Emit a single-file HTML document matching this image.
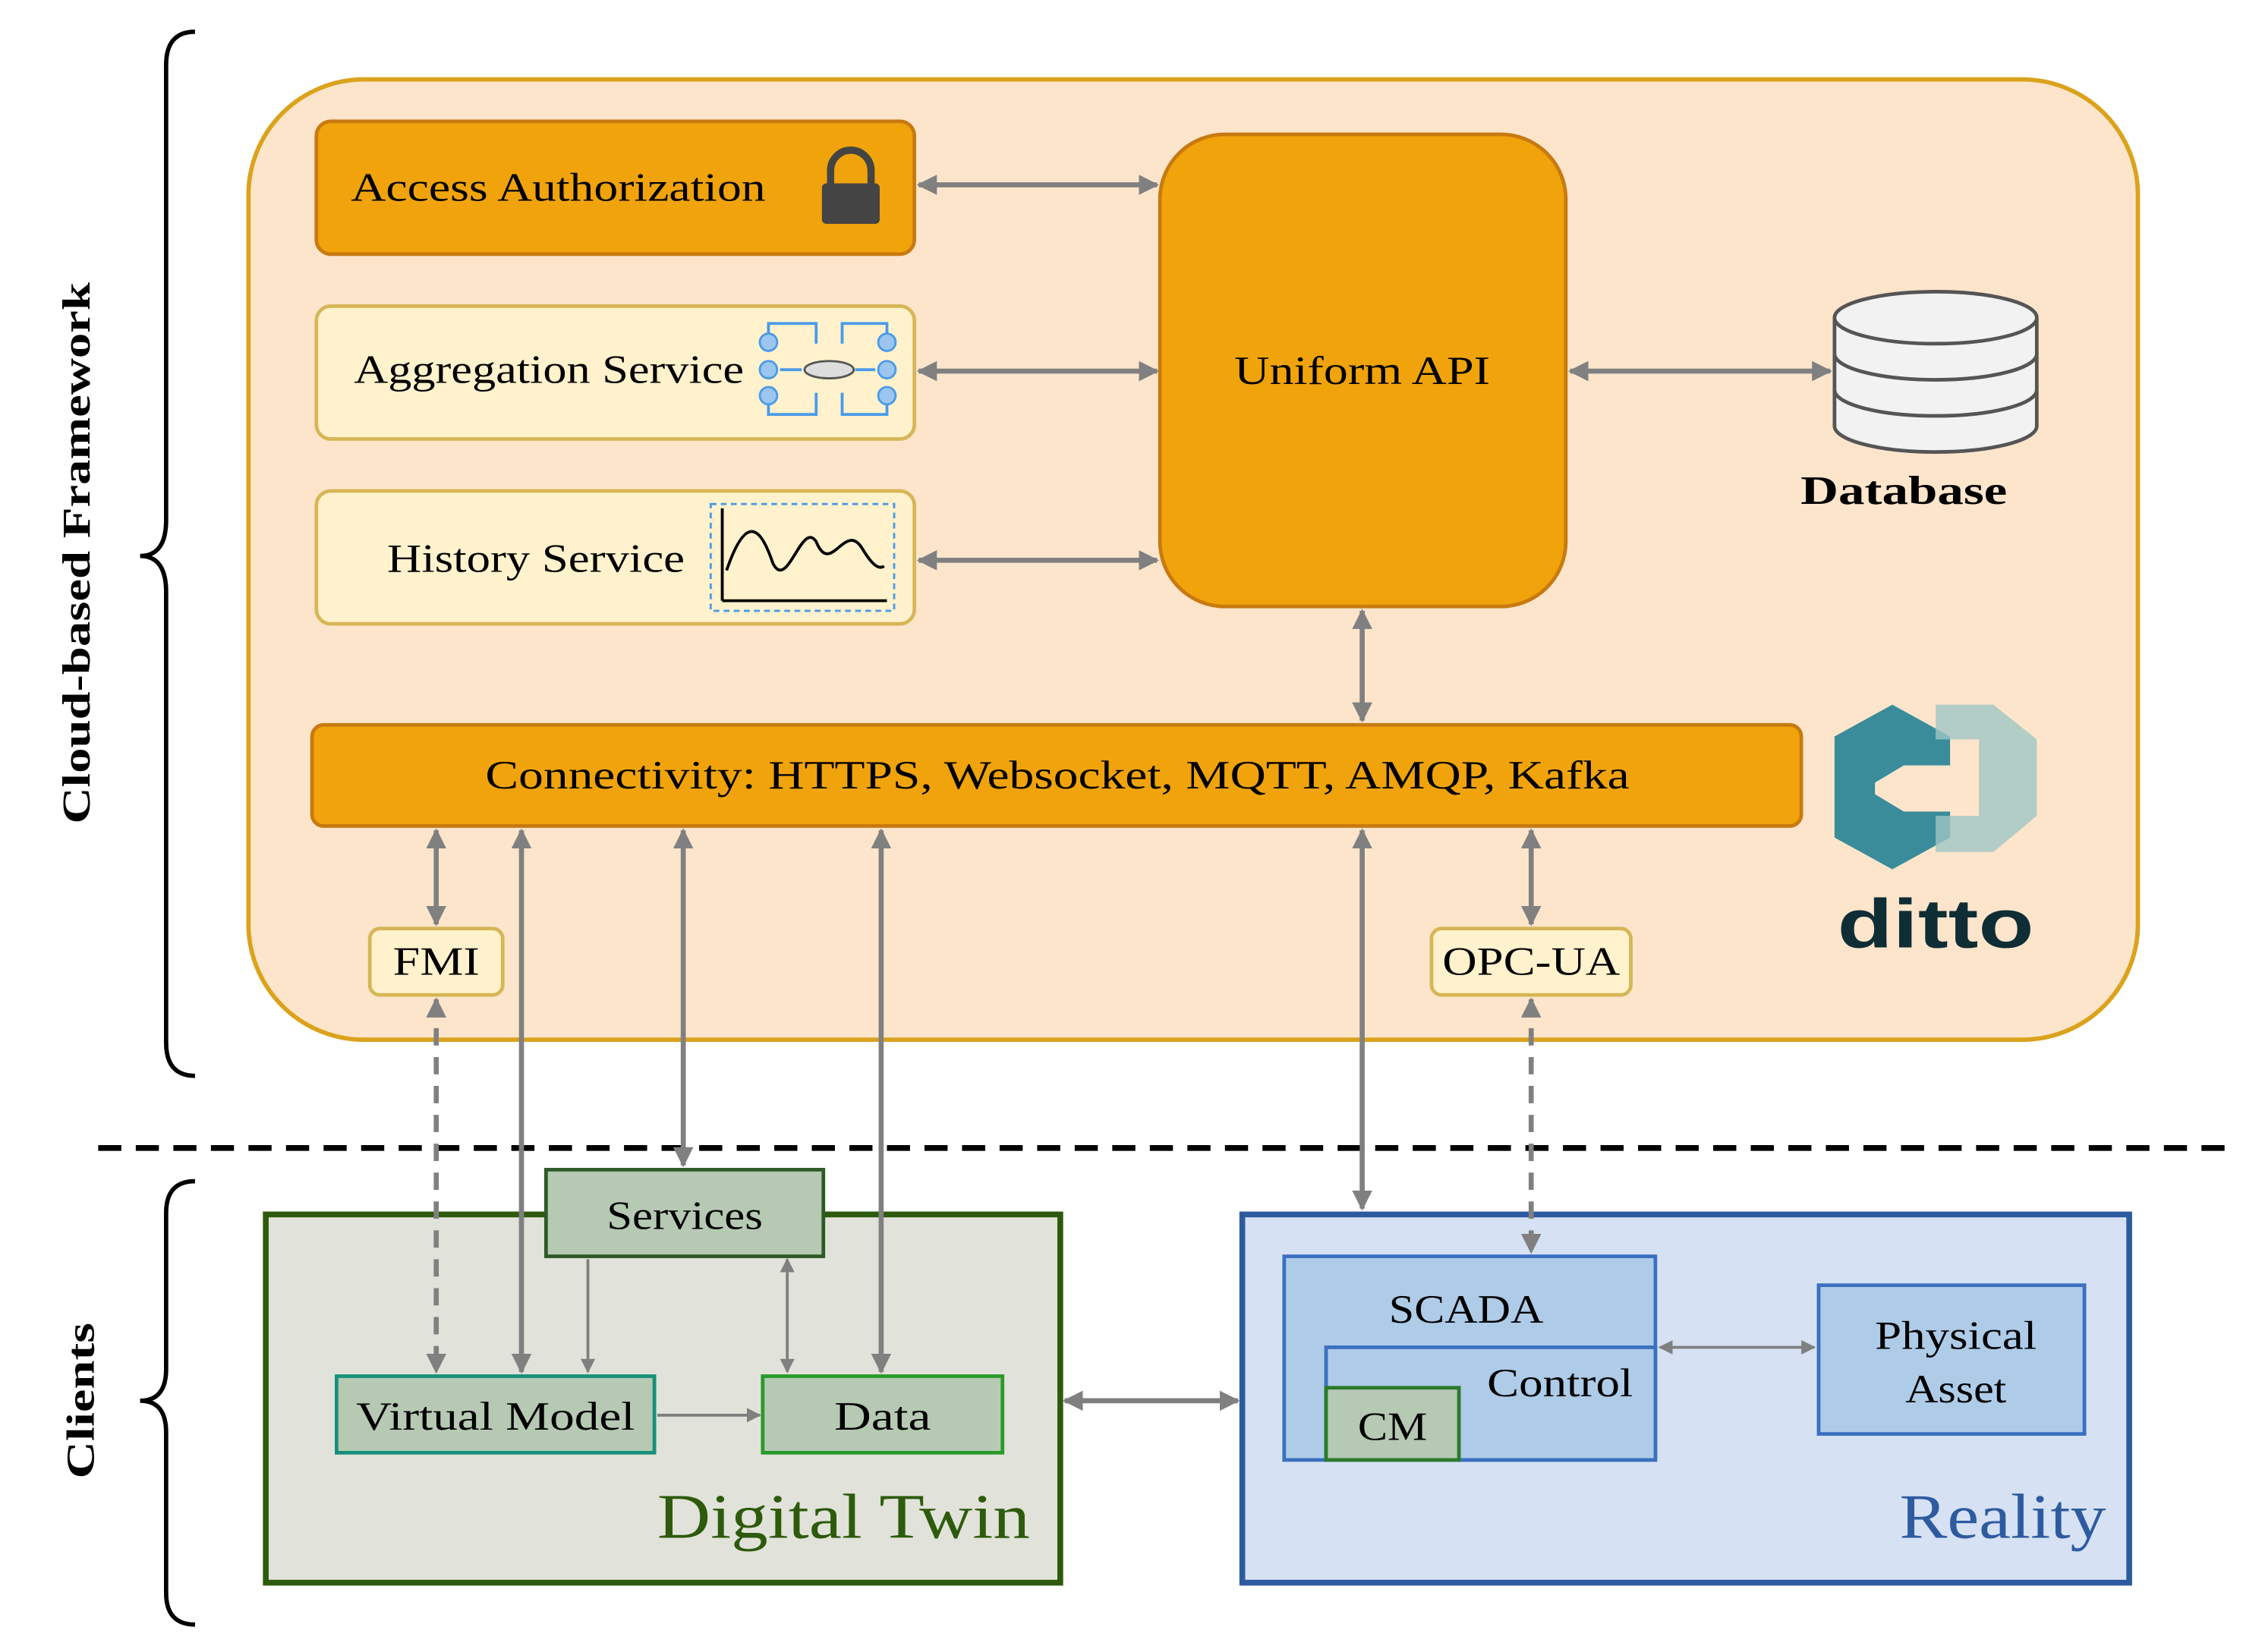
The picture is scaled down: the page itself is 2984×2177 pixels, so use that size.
<!DOCTYPE html>
<html><head><meta charset="utf-8"><style>
html,body{margin:0;padding:0;background:#fff;}
svg{display:block;}
text{font-family:"Liberation Serif",serif;}
</style></head><body>
<svg width="2984" height="2177" viewBox="0 0 1568 1144" preserveAspectRatio="none" xmlns="http://www.w3.org/2000/svg">
<defs>
<marker id="a" viewBox="0 0 10 10" refX="9" refY="5" markerWidth="4" markerHeight="4" orient="auto-start-reverse"><path d="M0,0 L10,5 L0,10 z" fill="#808080"/></marker>
<marker id="b" viewBox="0 0 10 10" refX="9" refY="5" markerWidth="5" markerHeight="5" orient="auto-start-reverse"><path d="M0,0 L10,5 L0,10 z" fill="#808080"/></marker>
</defs>
<!-- braces -->
<path d="M135,22 Q115,22 115,45 L115,360 Q115,385 97,385 Q115,385 115,410 L115,722 Q115,745 135,745" fill="none" stroke="#000" stroke-width="3"/>
<path d="M135,818 Q115,818 115,840 L115,948 Q115,970 97,970 Q115,970 115,992 L115,1103 Q115,1125 135,1125" fill="none" stroke="#000" stroke-width="3"/>
<text transform="translate(62,383) rotate(-90)" text-anchor="middle" font-size="27" font-weight="bold" textLength="375" lengthAdjust="spacingAndGlyphs">Cloud-based Framework</text>
<text transform="translate(65,970) rotate(-90)" text-anchor="middle" font-size="27" font-weight="bold" textLength="108" lengthAdjust="spacingAndGlyphs">Clients</text>
<line x1="68" y1="795" x2="1540" y2="795" stroke="#000" stroke-width="4" stroke-dasharray="16,10"/>
<!-- cloud -->
<rect x="172" y="55" width="1308" height="665" rx="80" fill="#fde5cc" stroke="#dba21c" stroke-width="3"/>
<rect x="219" y="84" width="414" height="92" rx="10" fill="#f0a30a" stroke="#c87a10" stroke-width="2.5"/>
<text x="243" y="139" font-size="28" textLength="287" lengthAdjust="spacingAndGlyphs">Access Authorization</text>
<path d="M575,128 L575,118 A14,14 0 0 1 603,118 L603,128" fill="none" stroke="#444" stroke-width="5"/>
<rect x="569" y="127" width="40" height="28" rx="3" fill="#444"/>
<rect x="219" y="212" width="414" height="92" rx="10" fill="#fff2cc" stroke="#d6b656" stroke-width="2.5"/>
<text x="245" y="265" font-size="28" textLength="270" lengthAdjust="spacingAndGlyphs">Aggregation Service</text>
<g stroke="#4a9be8" stroke-width="2" fill="none">
<path d="M532,237 V224 H565 V238 M614,237 V224 H583 V238 M532,274 V287 H565 V272 M614,274 V287 H583 V272 M540,256 H555 M606,256 H592"/>
</g>
<g fill="#9cc6f0" stroke="#4a9be8" stroke-width="1.5">
<circle cx="532" cy="237" r="6"/><circle cx="532" cy="256" r="6"/><circle cx="532" cy="274" r="6"/>
<circle cx="614" cy="237" r="6"/><circle cx="614" cy="256" r="6"/><circle cx="614" cy="274" r="6"/>
</g>
<ellipse cx="574" cy="256" rx="17" ry="6" fill="#ddd" stroke="#555" stroke-width="1.5"/>
<rect x="219" y="340" width="414" height="92" rx="10" fill="#fff2cc" stroke="#d6b656" stroke-width="2.5"/>
<text x="268" y="396" font-size="28" textLength="206" lengthAdjust="spacingAndGlyphs">History Service</text>
<rect x="492" y="349" width="127" height="74" fill="none" stroke="#4a9be8" stroke-width="1.5" stroke-dasharray="4,3"/>
<path d="M500,416 V352 M500,416 H614" stroke="#000" stroke-width="2" fill="none"/>
<path d="M503,395 C515,360 525,360 535,390 C545,410 555,360 565,375 C575,400 585,360 597,380 C603,390 608,395 612,392" fill="none" stroke="#000" stroke-width="2"/>
<rect x="803" y="93" width="281" height="327" rx="45" fill="#f0a30a" stroke="#c87a10" stroke-width="2.5"/>
<text x="943" y="266" font-size="28" text-anchor="middle" textLength="177" lengthAdjust="spacingAndGlyphs">Uniform API</text>
<!-- database -->
<g fill="#f2f2f2" stroke="#555" stroke-width="2.5">
<path d="M1270,270 V295 A70,18 0 0 0 1410,295 V270"/>
<path d="M1270,245 V270 A70,18 0 0 0 1410,270 V245"/>
<path d="M1270,220 V245 A70,18 0 0 0 1410,245 V220"/>
<ellipse cx="1340" cy="220" rx="70" ry="18"/>
</g>
<text x="1318" y="349" font-size="28" font-weight="bold" text-anchor="middle" textLength="143" lengthAdjust="spacingAndGlyphs">Database</text>
<rect x="216" y="502" width="1031" height="70" rx="8" fill="#f0a30a" stroke="#c87a10" stroke-width="2.5"/>
<text x="732" y="546" font-size="28" text-anchor="middle" textLength="792" lengthAdjust="spacingAndGlyphs">Connectivity: HTTPS, Websocket, MQTT, AMQP, Kafka</text>
<!-- ditto logo -->
<path d="M1270,510 L1310,488 L1350,510 L1350,530 L1318,530 L1298,542 L1298,550 L1318,562 L1350,562 L1350,580 L1310,602 L1270,580 Z" fill="#3a8c9b"/>
<path d="M1340,488 L1380,488 L1410,512 L1410,565 L1380,590 L1340,590 L1340,565 L1370,565 L1370,512 L1340,512 Z" fill="#9fc6c4" opacity="0.8"/>
<text x="1340" y="656" style="font-family:'Liberation Sans',sans-serif" font-size="48" font-weight="bold" fill="#0f2d35" text-anchor="middle" textLength="136" lengthAdjust="spacingAndGlyphs">ditto</text>
<rect x="256" y="643" width="92" height="46" rx="7" fill="#fff2cc" stroke="#d6b656" stroke-width="2.5"/>
<text x="302" y="675" font-size="28" text-anchor="middle" textLength="60" lengthAdjust="spacingAndGlyphs">FMI</text>
<rect x="991" y="643" width="138" height="46" rx="7" fill="#fff2cc" stroke="#d6b656" stroke-width="2.5"/>
<text x="1060" y="675" font-size="28" text-anchor="middle" textLength="123" lengthAdjust="spacingAndGlyphs">OPC-UA</text>
<!-- clients -->
<rect x="184" y="841" width="550" height="255" fill="#e1e2d9" stroke="#2d5a0c" stroke-width="4"/>
<text x="713" y="1065" font-size="44" fill="#2d5a0c" text-anchor="end" textLength="258" lengthAdjust="spacingAndGlyphs">Digital Twin</text>
<rect x="378" y="810" width="192" height="60" fill="#b5c9b3" stroke="#2d5a26" stroke-width="2.5"/>
<text x="474" y="851" font-size="28" text-anchor="middle" textLength="108" lengthAdjust="spacingAndGlyphs">Services</text>
<rect x="233" y="953" width="220" height="53" fill="#b5c9b3" stroke="#16907a" stroke-width="2.5"/>
<text x="343" y="990" font-size="28" text-anchor="middle" textLength="193" lengthAdjust="spacingAndGlyphs">Virtual Model</text>
<rect x="528" y="953" width="166" height="53" fill="#b5c9b3" stroke="#2a9a2a" stroke-width="2.5"/>
<text x="611" y="990" font-size="28" text-anchor="middle" textLength="67" lengthAdjust="spacingAndGlyphs">Data</text>
<rect x="860" y="841" width="614" height="255" fill="#d6e2f3" stroke="#2e5aa0" stroke-width="4"/>
<text x="1458" y="1065" font-size="44" fill="#2e5aa0" text-anchor="end" textLength="143" lengthAdjust="spacingAndGlyphs">Reality</text>
<rect x="889" y="870" width="257" height="141" fill="#aecbe8" stroke="#3a70c0" stroke-width="2.5"/>
<text x="1015" y="916" font-size="28" text-anchor="middle" textLength="107" lengthAdjust="spacingAndGlyphs">SCADA</text>
<rect x="918" y="933" width="228" height="78" fill="#aecbe8" stroke="#3a70c0" stroke-width="2.5"/>
<text x="1080" y="967" font-size="28" text-anchor="middle" textLength="101" lengthAdjust="spacingAndGlyphs">Control</text>
<rect x="918" y="961" width="92" height="50" fill="#b5c9b3" stroke="#2a7a2a" stroke-width="2.5"/>
<text x="964" y="997" font-size="28" text-anchor="middle" textLength="48" lengthAdjust="spacingAndGlyphs">CM</text>
<rect x="1259" y="890" width="184" height="103" fill="#aecbe8" stroke="#3a70c0" stroke-width="2.5"/>
<text x="1354" y="934" font-size="28" text-anchor="middle" textLength="112" lengthAdjust="spacingAndGlyphs">Physical</text>
<text x="1354" y="971" font-size="28" text-anchor="middle" textLength="70" lengthAdjust="spacingAndGlyphs">Asset</text>
<!-- arrows -->
<g stroke="#808080" stroke-width="3.5" fill="none" marker-start="url(#a)" marker-end="url(#a)">
<line x1="636" y1="128" x2="801" y2="128"/>
<line x1="636" y1="257" x2="801" y2="257"/>
<line x1="636" y1="388" x2="801" y2="388"/>
<line x1="1087" y1="257" x2="1267" y2="257"/>
<line x1="943" y1="423" x2="943" y2="499"/>
<line x1="302" y1="575" x2="302" y2="640"/>
<line x1="302" y1="692" x2="302" y2="950" stroke-dasharray="12,8"/>
<line x1="361" y1="575" x2="361" y2="950"/>
<line x1="473" y1="575" x2="473" y2="807"/>
<line x1="610" y1="575" x2="610" y2="950"/>
<line x1="943" y1="575" x2="943" y2="837"/>
<line x1="1060" y1="575" x2="1060" y2="640"/>
<line x1="1060" y1="692" x2="1060" y2="867" stroke-dasharray="12,8"/>
<line x1="737" y1="970" x2="857" y2="970"/>
</g>
<g stroke="#808080" stroke-width="2" fill="none">
<line x1="407" y1="872" x2="407" y2="950" marker-end="url(#b)"/>
<line x1="545" y1="872" x2="545" y2="950" marker-start="url(#b)" marker-end="url(#b)"/>
<line x1="455" y1="980" x2="526" y2="980" marker-end="url(#b)"/>
<line x1="1149" y1="933" x2="1256" y2="933" marker-start="url(#b)" marker-end="url(#b)"/>
</g>
</svg>
</body></html>
